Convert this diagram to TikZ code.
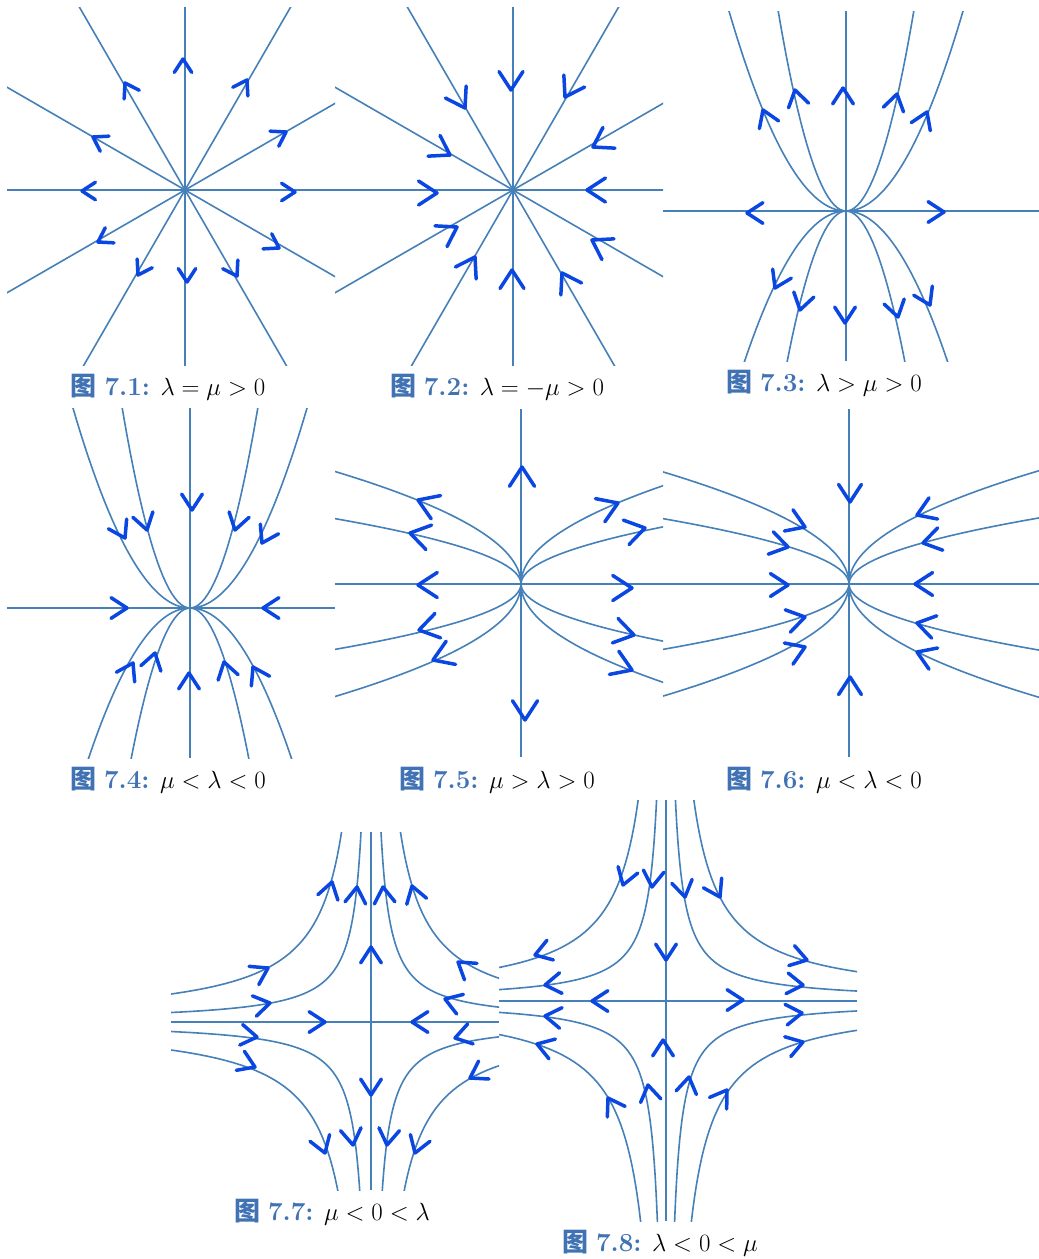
\documentclass[tikz,border=0pt]{standalone}
\usepackage{fontspec}
\newfontfamily\cjk{Noto Sans CJK SC}
\definecolor{curve}{RGB}{70,128,185}
\definecolor{hand}{RGB}{10,70,225}
\definecolor{capc}{RGB}{65,115,180}
\tikzset{
  crv/.style={draw=curve,line width=1.6pt},
  arw/.style={draw=hand,line width=3.5pt,line cap=round,line join=round},
  capt/.style={font=\fontsize{26}{30}\selectfont,inner sep=0pt}
}
\def\AL{16}
\newcommand\arw[3]{\draw[arw,shift={(#1,#2)}] ({180-(#3)+33}:\AL) -- (0,0) -- ({180-(#3)-33}:\AL);}
\newcommand\figcap[2]{{\cjk\bfseries\color{capc}图} \textcolor{capc}{\textbf{#1:}} #2}
\begin{document}
\begin{tikzpicture}[x=1pt,y=-1pt]
\useasboundingbox[fill=white] (0,0) rectangle (1039,1259);
% ---------- 7.1 and 7.2: stars
\begin{scope}
\clip (7,7) rectangle (335,365);
\foreach \a in {0,30,...,150} {\draw[crv] (185,190) ++(\a:600) -- ++(\a+180:1200);}
\end{scope}
\begin{scope}
\clip (335,7) rectangle (663,365);
\foreach \a in {0,30,...,150} {\draw[crv] (513,190) ++(\a:600) -- ++(\a+180:1200);}
\end{scope}
% ---------- 7.3
\begin{scope}[shift={(846,211)}]
\clip (-183,-200) rectangle (193,150);
\draw[crv] (0,-200) -- (0,150);
\draw[crv] (-183,0) -- (193,0);
\foreach \k in {0.0146,0.0435} {
  \draw[crv] plot[domain=-150:150,samples=101] (\x,{-\k*(\x)*(\x)});
  \draw[crv] plot[domain=-150:150,samples=101] (\x,{\k*(\x)*(\x)});
}
\end{scope}
% ---------- 7.4
\begin{scope}[shift={(190,608)}]
\clip (-183,-200) rectangle (145,150);
\draw[crv] (0,-200) -- (0,150);
\draw[crv] (-183,0) -- (145,0);
\foreach \k in {0.0146,0.0435} {
  \draw[crv] plot[domain=-150:150,samples=101] (\x,{-\k*(\x)*(\x)});
  \draw[crv] plot[domain=-150:150,samples=101] (\x,{\k*(\x)*(\x)});
}
\end{scope}
% ---------- 7.5
\begin{scope}[shift={(521,584)}]
\clip (-186,-175) rectangle (142,173);
\draw[crv] (0,-175) -- (0,173);
\draw[crv] (-186,0) -- (142,0);
\foreach \k in {0.0147,0.0435} {
  \draw[crv] plot[domain=-150:150,samples=101] ({-\k*(\x)*(\x)},\x);
  \draw[crv] plot[domain=-150:150,samples=101] ({\k*(\x)*(\x)},\x);
}
\end{scope}
% ---------- 7.6
\begin{scope}[shift={(849,584)}]
\clip (-186,-175) rectangle (190,173);
\draw[crv] (0,-175) -- (0,173);
\draw[crv] (-186,0) -- (190,0);
\foreach \k in {0.0148,0.0435} {
  \draw[crv] plot[domain=-150:150,samples=101] ({-\k*(\x)*(\x)},\x);
  \draw[crv] plot[domain=-150:150,samples=101] ({\k*(\x)*(\x)},\x);
}
\end{scope}
% ---------- 7.7
\begin{scope}[shift={(371,1022)}]
\clip (-200,-190) rectangle (128,168);
\draw[crv] (0,-190) -- (0,168);
\draw[crv] (-200,0) -- (128,0);
\foreach \s in {74.8,43.6} {
  \foreach \sx/\sy in {1/1,1/-1,-1/1,-1/-1}
    {\draw[crv] plot[domain=-2.3:2.3,samples=80,variable=\t] ({\sx*\s*exp(\t)},{\sy*\s*exp(-\t)});}
}
\end{scope}
% ---------- 7.8
\begin{scope}[shift={(666,1001)}]
\clip (-167,-201) rectangle (191,220);
\draw[crv] (0,-201) -- (0,220);
\draw[crv] (-167,0) -- (191,0);
\foreach \s in {74.8,43.6} {
  \foreach \sx/\sy in {1/1,1/-1,-1/1,-1/-1}
    {\draw[crv] plot[domain=-2.3:2.3,samples=80,variable=\t] ({\sx*\s*exp(\t)},{\sy*\s*exp(-\t)});}
}
\end{scope}
% ---------- hand-drawn arrows
\def\AL{16}
\foreach \px/\py/\pa in {183/59/90,247/80/60,286/132/30,295/192/0,279/248/-30,237/276/-60,187/282/-90,138/275/-120,98/242/-150,82/191/180,93/137/150,125/83/120}
  {\arw{\px}{\py}{\pa}}
\def\AL{22}
\foreach \px/\py/\pa in {511/90/-90,565/97/-120,593/147/-150,587/190/180,592/240/150,562/273/120,512/270/90,475/257/60,457/227/30,437/193/0,450/155/-30,465/108/-60}
  {\arw{\px}{\py}{\pa}}
\def\AL{19}
\foreach \px/\py/\pa in {763/110/112,795/90/103,843/88/90,897/94/77,927/112/67,747/213/180,944/212/0,775/288/-116,800/310/-104,845/323/-90,898/317/-76,930/305/-64}
  {\arw{\px}{\py}{\pa}}
\foreach \px/\py/\pa in {125/538/-62,147/530/-75,192/510/-90,235/530/-105,262/543/-118,127/608/0,263/608/180,133/663/62,155/653/75,189/673/90,224/662/105,253/667/118}
  {\arw{\px}{\py}{\pa}}
\def\AL{23}
\foreach \px/\py/\pa in {522/467/90,525/720/-90,418/500/158,410/533/167,418/585/180,419/630/-167,433/660/-158,618/503/22,645/528/13,632/588/0,634/635/-13,632/670/-22}
  {\arw{\px}{\py}{\pa}}
\def\AL{21}
\foreach \px/\py/\pa in {850/502/-90,850/677/90,805/527/-22,788/547/-13,788/585/0,805/617/13,805/647/22,917/515/202,923/543/193,915/584/180,917/623/167,917/652/158}
  {\arw{\px}{\py}{\pa}}
\def\AL{19}
\foreach \px/\py/\pa in {268/968/28,270/1003/11,332/882/75,357/887/84,383/887/96,412/886/107,458/962/143,445/999/161,455/1038/195,470/1078/210,415/1153/-109,387/1145/-98,353/1145/-82,325/1153/-71,257/1037/-8,255/1067/-23,325/1022/0,412/1022/180,371/947/90,371/1095/-90}
  {\arw{\px}{\py}{\pa}}
\foreach \px/\py/\pa in {666/960/-90,663/1040/90,592/1001/180,743/1000/0,623/885/-108,652/887/-96,685/897/-79,720/897/-62,535/955/198,545/985/187,545/1016/173,537/1044/162,608/1098/121,648/1085/100,689/1077/80,727/1090/56,807/960/-16,803/985/-6,802/1013/6,803/1042/17}
  {\arw{\px}{\py}{\pa}}
% ---------- captions
\node[capt] (c1) at (168,387) {\figcap{7.1}{$\lambda=\mu>0$}};
\node[capt] (c2) at (497,387) {\figcap{7.2}{$\lambda=-\mu>0$}};
\node[capt] (c3) at (824,383) {\figcap{7.3}{$\lambda>\mu>0$}};
\node[capt] (c4) at (168,780) {\figcap{7.4}{$\mu<\lambda<0$}};
\node[capt] (c5) at (497,780) {\figcap{7.5}{$\mu>\lambda>0$}};
\node[capt] (c6) at (824,780) {\figcap{7.6}{$\mu<\lambda<0$}};
\node[capt] (c7) at (332,1212) {\figcap{7.7}{$\mu<0<\lambda$}};
\node[capt] (c8) at (660,1243) {\figcap{7.8}{$\lambda<0<\mu$}};
\end{tikzpicture}
\end{document}
